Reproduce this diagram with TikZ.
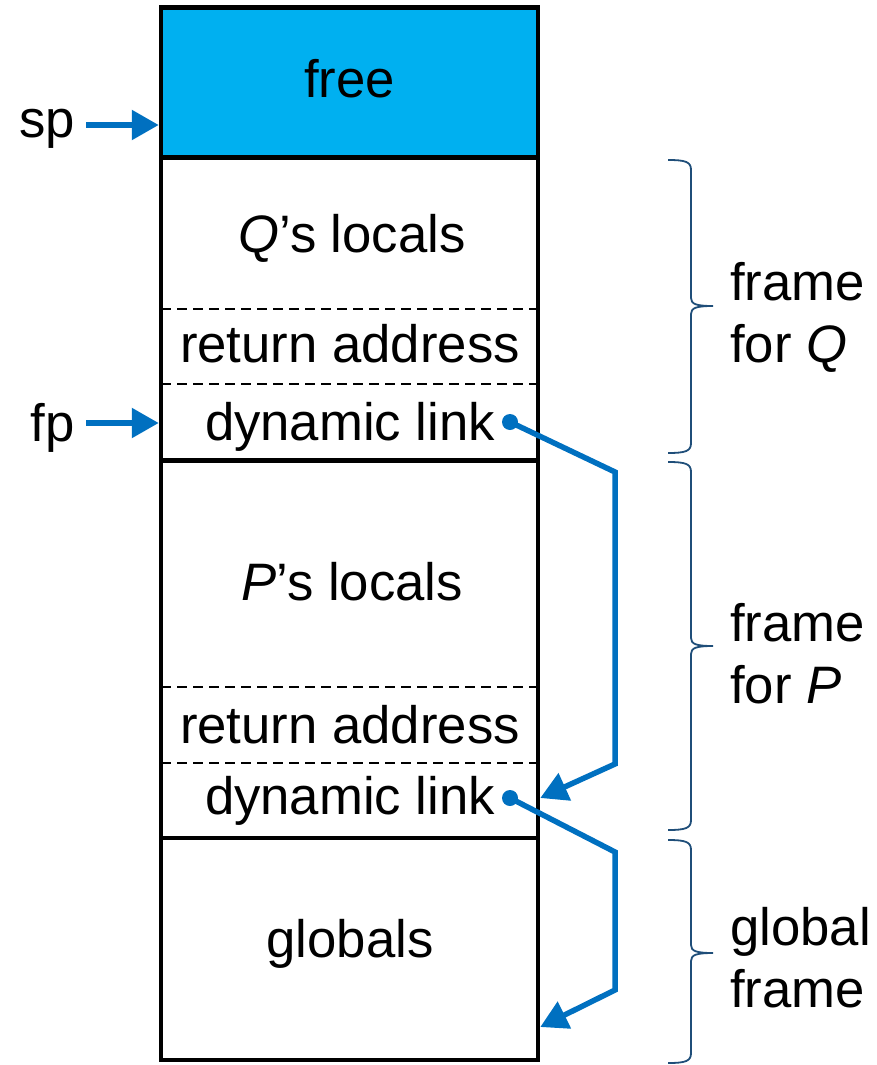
\documentclass[tikz,border=0pt]{standalone}
\usepackage{fontspec}
\setmainfont{Liberation Sans}
\usetikzlibrary{arrows.meta,positioning,calc}
\usepackage{xcolor}
\definecolor{freecolor}{RGB}{0,176,240}
\definecolor{linkblue}{RGB}{0,112,192}
\definecolor{bracecolor}{RGB}{31,78,121}
\newcommand{\stackbox}[3]{%
  \node[draw=black, line width=4.5pt, minimum width=377pt, minimum height=#2,
        inner sep=0pt, #3] (#1) }
% right brace from #1 to #3, tip at #2
\newcommand{\framebrace}[3]{%
  \draw[framebrace] (668,#1) .. controls (686,#1) and (691,#1+2) .. (691,#1+10)
    -- (691,#2-8) .. controls (691,#2-2) and (696,#2) .. (713,#2)
    .. controls (696,#2) and (691,#2+2) .. (691,#2+8)
    -- (691,#3-10) .. controls (691,#3-2) and (686,#3) .. (668,#3);}

\begin{document}
\begin{tikzpicture}[x=1pt, y=-1pt,
  txt/.style={font=\fontsize{52.7}{62}\selectfont, inner sep=0pt, anchor=base},
  ptr/.style={draw=linkblue, line width=5.5pt, -{Triangle[length=27pt,width=29pt]}},
  linkdot/.style={circle, fill=linkblue, inner sep=0pt, minimum size=16pt},
  dashrule/.style={dash pattern=on 10pt off 6pt, line width=1.3pt},
  framebrace/.style={draw=bracecolor, line width=1.8pt}]

\useasboundingbox (0,0) rectangle (877,1065);

% the stack
\stackbox{free}{149.5pt}{fill=freecolor} at (349.5,82.5) {};
\stackbox{qframe}{303.5pt}{} at (349.5,308.75) {};
\stackbox{pframe}{377.5pt}{} at (349.5,649.25) {};
\stackbox{gframe}{222pt}{} at (349.5,949) {};

\foreach \y in {309,384,687,763}
  \draw[dashrule] (161,\y) -- (538,\y);

\node[txt] (freetxt) at (349.5,97) {free};
\node[txt] (qloc) at (352,252) {\textit{Q}’s locals};
\node[txt] (qret) at (350,362) {return address};
\node[txt] (qdyn) at (350,440) {dynamic link};
\node[txt] (ploc) at (352,600) {\textit{P}’s locals};
\node[txt] (pret) at (350,743) {return address};
\node[txt] (pdyn) at (350,814) {dynamic link};
\node[txt] (globtxt) at (350,957) {globals};

% pointers
\node[txt, anchor=base east] (sp) at (75,137) {sp};
\node[txt, anchor=base east] (fp) at (75,441) {fp};
\coordinate (spat) at (86,125);
\coordinate (fpat) at (86,423);
\draw[ptr] (spat) -- (spat -| free.west);
\draw[ptr] (fpat) -- (fpat -| qframe.west);

% dynamic links
\node[linkdot] (qdot) at (510,422) {};
\node[linkdot] (pdot) at (510,798) {};
\draw[ptr] (qdot.center) -- ++(105,50) -- ++(0,292) -- (pdot -| pframe.east);
\draw[ptr] (pdot.center) -- ++(105,54) -- ++(0,138) -- ([yshift=-78pt]gframe.east);

% frames
\framebrace{160}{306}{453}
\framebrace{462}{646}{830}
\framebrace{840}{953}{1063}
\node[txt, anchor=base west, align=left] (qlbl) at (730,362) {frame\\for \textit{Q}};
\node[txt, anchor=base west, align=left] (plbl) at (730,703) {frame\\for \textit{P}};
\node[txt, anchor=base west, align=left] (glbl) at (730,1007) {global\\frame};

\end{tikzpicture}
\end{document}
